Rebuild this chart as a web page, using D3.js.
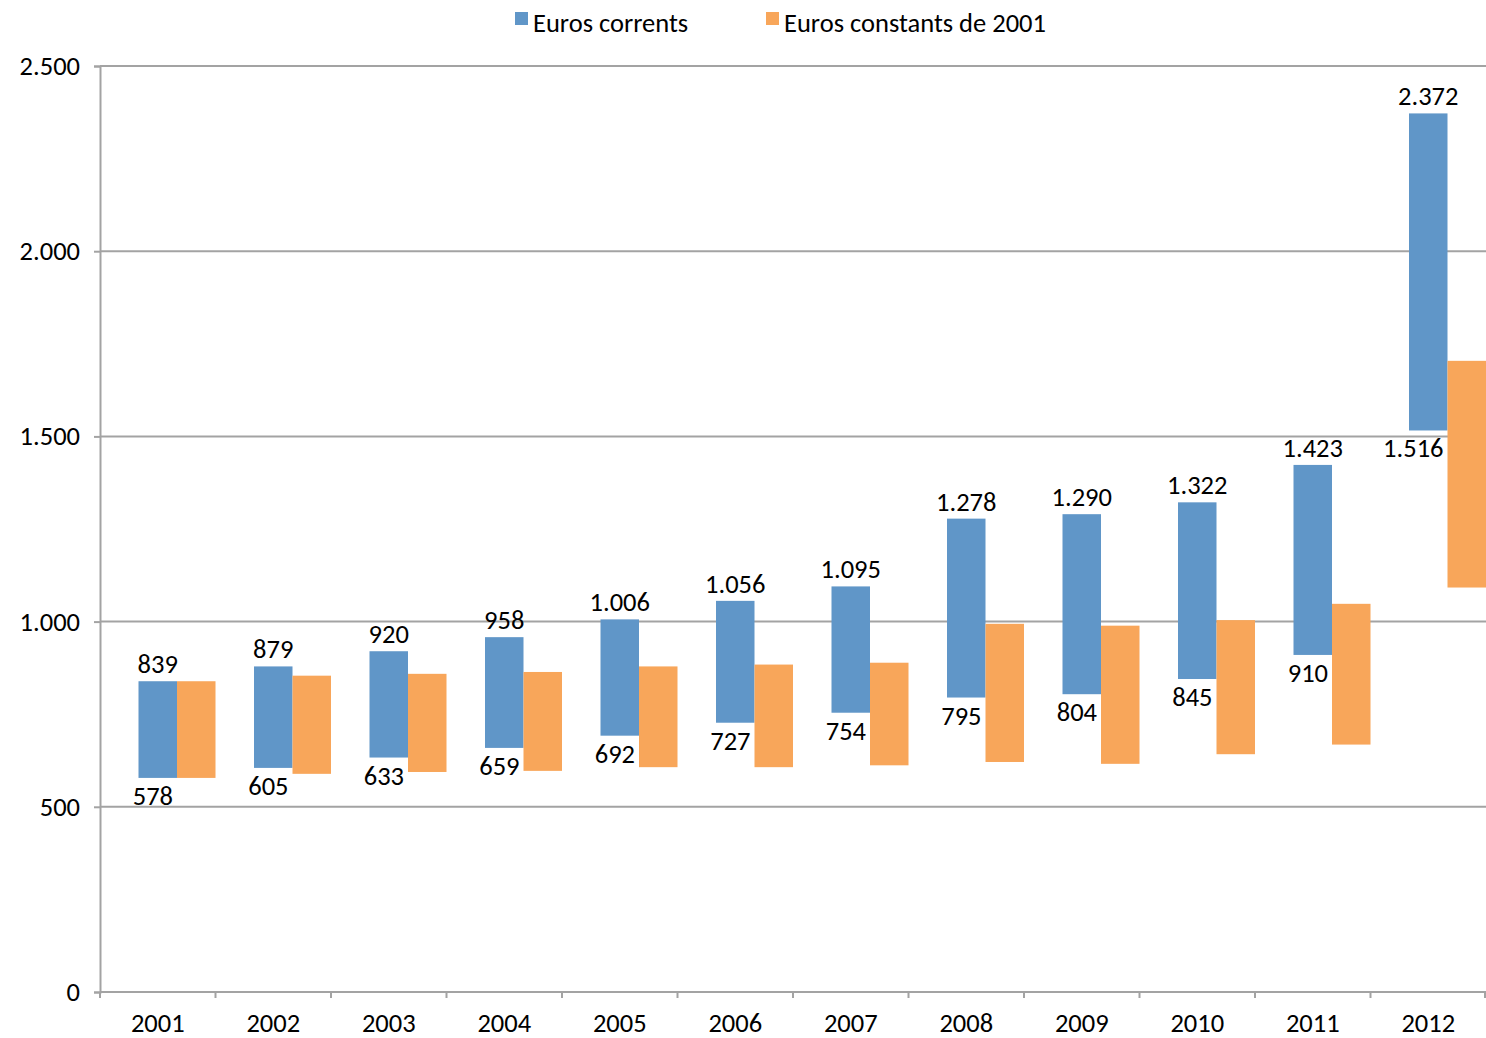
<!DOCTYPE html>
<html>
<head>
<meta charset="utf-8">
<script src="https://cdn.jsdelivr.net/npm/d3@7"></script>
<style>
  body { margin:0; background:#fff; }
  #canvas { width:1486px; height:1038px; }
  text { font-family: Carlito, Lato, "Open Sans", sans-serif; fill:#000; }
</style>
</head>
<body>
<div id="canvas" class="canvas"></div>
<script>
// data
var years = ['2001','2002','2003','2004','2005','2006','2007','2008','2009','2010','2011','2012'];
var corrLow  = [578, 605, 633, 659, 692, 727, 754, 795, 804, 845, 910, 1516];
var corrHigh = [839, 879, 920, 958, 1006, 1056, 1095, 1278, 1290, 1322, 1423, 2372];
// constant euros of 2001 (not labelled)
var constLow  = [578, 589, 594, 597, 607, 607, 612, 621, 616, 642, 668, 1092];
var constHigh = [839, 854, 859, 864, 879, 884, 889, 994, 989, 1004, 1048, 1704];
var yTicks = [0, 500, 1000, 1500, 2000, 2500];
var seriesNames = ['Euros corrents', 'Euros constants de 2001'];

var blue = '#6096c8', orange = '#f8a65a', grid = '#a3a3a3';
var fs = '26.5px';

var W = 1486, H = 1038;
var m = {t:66, r:0, b:46, l:100};

var svg = d3.select('.canvas').append('svg')
    .attr('width', W).attr('height', H);

var x = d3.scaleBand().domain(years).range([m.l, W - m.r]).padding(0);
var y = d3.scaleLinear().domain([0, 2500]).range([H - m.b, m.t]);
var fmt = function(v){ return d3.format(',')(v).replace(/,/g, '.'); };

// gridlines
svg.append('g').selectAll('line')
    .data(yTicks.slice(1))
    .enter().append('line')
    .attr('x1', m.l).attr('x2', W - m.r)
    .attr('y1', function(d){ return y(d); })
    .attr('y2', function(d){ return y(d); })
    .style('stroke', grid).style('stroke-width', 2);

// y axis
var yAxis = svg.append('g')
    .attr('transform', 'translate(' + m.l + ',0)')
    .call(d3.axisLeft(y).tickValues(yTicks).tickSize(6).tickPadding(14).tickFormat(fmt));
yAxis.select('.domain').style('stroke', grid).style('stroke-width', 2);
yAxis.selectAll('.tick line').style('stroke', grid).style('stroke-width', 2);
yAxis.selectAll('.tick text').style('font-size', fs).attr('font-family', null);

// x axis with ticks at category boundaries
var xAxisG = svg.append('g').attr('transform', 'translate(0,' + y(0) + ')');
xAxisG.append('line')
    .attr('x1', m.l).attr('x2', W - m.r)
    .style('stroke', grid).style('stroke-width', 2);
var bounds = years.map(function(d){ return x(d); }).concat([W - m.r - 1]);
xAxisG.selectAll('.xt').data(bounds).enter().append('line')
    .attr('class', 'xt')
    .attr('x1', function(d){ return d; }).attr('x2', function(d){ return d; })
    .attr('y1', 0).attr('y2', 6)
    .style('stroke', grid).style('stroke-width', 2);
xAxisG.selectAll('.xl').data(years).enter().append('text')
    .attr('class', 'xl')
    .attr('x', function(d){ return x(d) + x.bandwidth()/2; })
    .attr('y', 40)
    .attr('text-anchor', 'middle')
    .style('font-size', fs)
    .text(function(d){ return d; });

// bars
var bw = x.bandwidth() / 3;
var rows = years.map(function(d, i){
    return {year:d, cl:corrLow[i], ch:corrHigh[i], kl:constLow[i], kh:constHigh[i]};
});

var bars = svg.append('g');
bars.selectAll('.corr').data(rows).enter().append('rect')
    .attr('class', 'corr')
    .attr('x', function(d){ return x(d.year) + bw; })
    .attr('width', bw)
    .attr('y', function(d){ return y(d.ch); })
    .attr('height', function(d){ return y(d.cl) - y(d.ch); })
    .style('fill', blue);

bars.selectAll('.const').data(rows).enter().append('rect')
    .attr('class', 'const')
    .attr('x', function(d){ return x(d.year) + 2*bw; })
    .attr('width', bw)
    .attr('y', function(d){ return y(d.kh); })
    .attr('height', function(d){ return y(d.kl) - y(d.kh); })
    .style('fill', orange);

// labels on the blue bars
var labels = svg.append('g');
labels.selectAll('.hi').data(rows).enter().append('text')
    .attr('x', function(d){ return x(d.year) + 1.5*bw; })
    .attr('y', function(d){ return y(d.ch) - 8; })
    .attr('text-anchor', 'middle')
    .style('font-size', fs)
    .text(function(d){ return fmt(d.ch); });
labels.selectAll('.lo').data(rows).enter().append('text')
    .attr('x', function(d){ return x(d.year) + 2*bw - 4; })
    .attr('y', function(d){ return y(d.cl) + 27; })
    .attr('text-anchor', 'end')
    .style('font-size', fs)
    .text(function(d){ return fmt(d.cl); });

// legend
var legend = svg.append('g');
var legX = [515, 766];
legend.selectAll('rect').data(seriesNames).enter().append('rect')
    .attr('x', function(d,i){ return legX[i]; })
    .attr('y', 12).attr('width', 13).attr('height', 13)
    .style('fill', function(d,i){ return i ? orange : blue; });
legend.selectAll('text').data(seriesNames).enter().append('text')
    .attr('x', function(d,i){ return legX[i] + 18; })
    .attr('y', 32)
    .style('font-size', fs)
    .text(function(d){ return d; });
</script>
</body>
</html>
